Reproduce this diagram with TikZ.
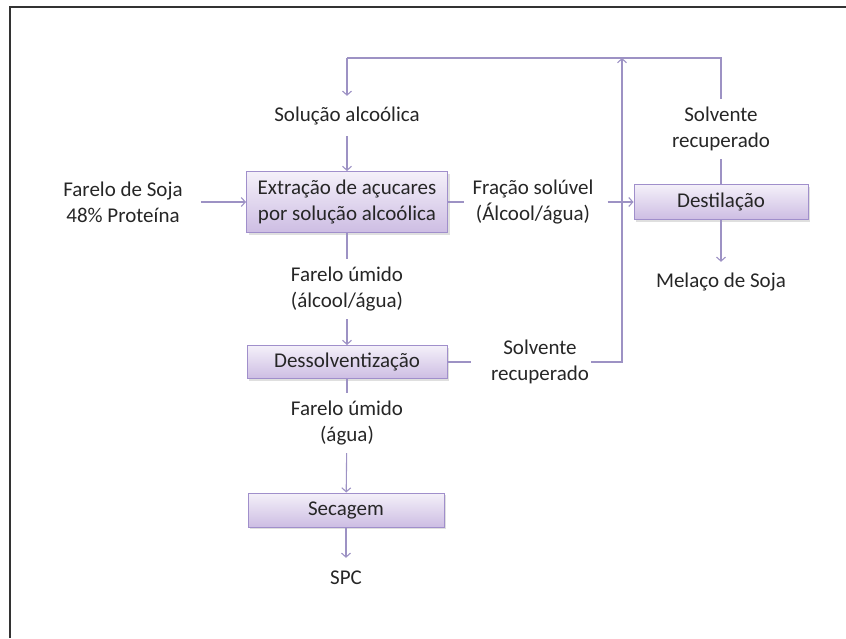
\documentclass[tikz,border=0pt]{standalone}
\usepackage{fontspec}
\setmainfont{Carlito}
\usetikzlibrary{arrows.meta,shadows}

\definecolor{linha}{HTML}{9D92C4}
\definecolor{borda}{HTML}{A08FCB}
\definecolor{topo}{HTML}{F4F0F9}
\definecolor{fundo}{HTML}{CDBDE3}
\definecolor{texto}{HTML}{262626}

\tikzset{
  etapa/.style={draw=borda, line width=1pt, top color=topo, bottom color=fundo,
    drop shadow={opacity=0.25, shadow xshift=2pt, shadow yshift=-2pt},
    text=texto, align=center, inner sep=0pt},
  rotulo/.style={text=texto, align=center, inner xsep=2pt, inner ysep=0pt, minimum height=40pt},
  rotulo2/.style={rotulo, minimum height=60pt},
  liga/.style={draw=linha, line width=1.1pt},
  fluxo/.style={liga, -{Straight Barb[length=4pt,width=9pt]}}
}

\begin{document}
\begin{tikzpicture}[x=1pt, y=-1pt, font=\fontsize{21}{26}\selectfont]
  \useasboundingbox (0,0) rectangle (846,638);
  \draw[line width=2pt, black!80] (10,638) -- (10,7) -- (846,7);

  % etapas
  \node[etapa, minimum width=201pt, minimum height=61pt] (extr) at (347,202) {Extração de açucares\\por solução alcoólica};
  \node[etapa, minimum width=200pt, minimum height=33pt] (desol) at (347,362) {Dessolventização};
  \node[etapa, minimum width=196pt, minimum height=34pt] (secag) at (346,510) {Secagem};
  \node[etapa, minimum width=174pt, minimum height=35pt] (destil) at (721,202) {Destilação};

  % rotulos
  \node[rotulo2, inner xsep=18pt] (farelo) at (123,202) {Farelo de Soja\\48\% Proteína};
  \node[rotulo] (solalc) at (347,116) {Solução alcoólica};
  \node[rotulo2, inner xsep=8pt] (fracsol) at (533,202) {Fração solúvel\\(Álcool/água)};
  \node[rotulo2] (solrec1) at (721,129) {Solvente\\recuperado};
  \node[rotulo] (melaco) at (721,282) {Melaço de Soja};
  \node[rotulo2] (farum1) at (347,289) {Farelo úmido\\(álcool/água)};
  \node[rotulo2] (solrec2) at (540,362) {Solvente\\recuperado};
  \node[rotulo2] (farum2) at (347,423) {Farelo úmido\\(água)};
  \node[rotulo] (spc) at (346,578) {SPC};

  \coordinate (cantoE) at (347,58);
  \coordinate (cantoD) at (721,58);
  \coordinate (coletaT) at (622,58);
  \coordinate (coletaB) at (622,362);

  % ligacoes
  \draw[fluxo] (farelo) -- (extr);
  \draw[fluxo] (cantoE) -- (solalc);
  \draw[fluxo] (solalc) -- (extr);
  \draw[liga] (extr) -- (farum1);
  \draw[fluxo] (farum1) -- (desol);
  \draw[liga] (desol) -- (farum2);
  \draw[fluxo] (farum2) -- (secag);
  \draw[fluxo] (secag) -- (spc);
  \draw[liga] (extr) -- (fracsol);
  \draw[fluxo, shorten <=6pt] (fracsol) -- (destil);
  \draw[liga] (destil) -- (solrec1);
  \draw[liga] (solrec1) -- (cantoD) -- (cantoE);
  \draw[fluxo] (destil) -- (melaco);
  \draw[liga, shorten >=18pt] (desol) -- (solrec2);
  \draw[fluxo] (solrec2) -- (coletaB) -- (coletaT);
\end{tikzpicture}
\end{document}
